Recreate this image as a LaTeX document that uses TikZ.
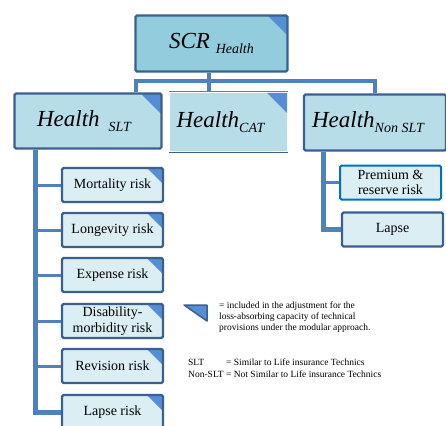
\documentclass[tikz,border=0pt]{standalone}
\usepackage{fontspec}
\setmainfont{Liberation Serif}
\usetikzlibrary{calc}

\definecolor{hdark}{HTML}{3B5F8E}
\definecolor{hline}{HTML}{4F81BD}
\definecolor{hcorner}{HTML}{558ED5}
\definecolor{htop}{HTML}{93CDDD}
\definecolor{hmid}{HTML}{B7DEE8}
\definecolor{hleaf}{HTML}{DBEEF3}
\definecolor{hbright}{HTML}{0070C0}

\tikzset{
	riskbox/.style={draw=hdark, line width=2.4pt, rounded corners=1.5pt, inner sep=0pt, align=center},
	topbox/.style={riskbox, fill=htop, font=\fontsize{23}{23}\selectfont\itshape},
	midbox/.style={riskbox, fill=hmid, font=\fontsize{23}{23}\selectfont\itshape},
	leafbox/.style={riskbox, fill=hleaf, minimum width=101pt, minimum height=34pt, font=\fontsize{14}{15.5}\selectfont},
	dogear/.style={path picture={\fill[hcorner] (path picture bounding box.north east) -- ++(-#1,0pt) -- ++(#1,-#1) -- cycle;}},
	dogear/.default=16pt,
	trunk/.style={draw=hline, line width=4pt},
	spine/.style={draw=hline, line width=5pt},
	branch/.style={draw=hline, line width=3pt}
}
\newcommand{\lowsub}[1]{\raisebox{-5pt}{\fontsize{14}{14}\selectfont #1}}

\begin{document}
\begin{tikzpicture}[x=1pt, y=-1pt]
		%%%%% START %%%%%
		\clip (0, 0) rectangle (446, 425);
		
		%%%%% TOP LEVEL %%%%%
		\node[topbox, dogear=20pt, minimum width=152pt, minimum height=56pt] (scr) at (211.5, 43.5) {SCR \lowsub{Health}};
		
		\node[midbox, dogear=21pt, minimum width=147pt, minimum height=55pt] (slt) at (88, 121) {\hspace{-8pt}Health\hspace{9pt}\lowsub{SLT}};
		\node[midbox, draw=none, rounded corners=0pt, dogear=20pt, minimum width=117pt, minimum height=58pt] (cat) at (228.5, 122) {\hspace{-16pt}Health\lowsub{CAT}};
		\node[midbox, minimum width=142pt, minimum height=56pt] (nonslt) at (375, 122.5) {\hspace{-14pt}Health\lowsub{Non SLT}};
		\draw[hline, line width=1pt] (cat.north west) -- (cat.north east);
		\draw[hdark, line width=1pt] (cat.south west) -- (cat.south east);
		
		\coordinate (busL) at (136, 81);
		\coordinate (busR) at (375, 81);
		\draw[trunk] (scr.south -| 209, 0) -- (cat.north -| 209, 0);
		\draw[trunk] (slt.north -| busL) -- (busL) -- (busR) -- (nonslt.north -| busR);
		
		%%%%% SLT RISKS %%%%%
		\node[leafbox, dogear] (mortality) at (112.5, 185) {Mortality risk};
		\node[leafbox, dogear] (longevity) at (112.5, 230) {Longevity risk};
		\node[leafbox, dogear] (expense) at (112.5, 275) {Expense risk};
		\node[leafbox, dogear, font=\fontsize{14}{16}\selectfont] (disability) at (112.5, 321) {Disability-\\morbidity risk};
		\node[leafbox, dogear] (revision) at (112.5, 366) {Revision risk};
		\node[leafbox, dogear] (lapserisk) at (112.5, 412) {Lapse risk};
		
		\coordinate (sltspine) at (35, 0);
		\draw[spine] (slt.south -| sltspine) |- (lapserisk.west);
		\draw[branch] (mortality.west -| sltspine) -- (mortality.west);
		\draw[branch] (longevity.west -| sltspine) -- (longevity.west);
		\draw[branch] (expense.west -| sltspine) -- (expense.west);
		\draw[branch] (disability.west -| sltspine) -- (disability.west);
		\draw[branch] (revision.west -| sltspine) -- (revision.west);
		
		%%%%% NON SLT RISKS %%%%%
		\node[leafbox, draw=hbright, line width=2pt] (premium) at (390.5, 182.5) {Premium \&\\reserve risk};
		\node[leafbox] (lapse) at (392.5, 229.5) {Lapse};
		
		\coordinate (nonsltspine) at (323, 0);
		\draw[spine] (nonslt.south -| nonsltspine) |- (lapse.west);
		\draw[branch] (premium.west -| nonsltspine) -- (premium.west);
		
		%%%%% LEGEND %%%%%
		\filldraw[fill=hcorner, draw=hdark, line width=1.5pt, line join=round] (184, 305) -- (207, 305) -- (207, 321) -- cycle;
		\node[anchor=north west, inner sep=0pt, align=left, font=\fontsize{9.5}{11}\selectfont] (legend) at (219, 302) {= included in the adjustment for the\\loss-absorbing capacity of technical\\provisions under the modular approach.};
		\node[anchor=north west, inner sep=0pt, font=\fontsize{9.5}{12}\selectfont] (abbrev) at (188, 357) {\begin{tabular}{@{}l@{ }l@{}}SLT & = Similar to Life insurance Technics\\Non-SLT & = Not Similar to Life insurance Technics\end{tabular}};
		
		%%%%% END %%%%%
	\end{tikzpicture}
\end{document}
